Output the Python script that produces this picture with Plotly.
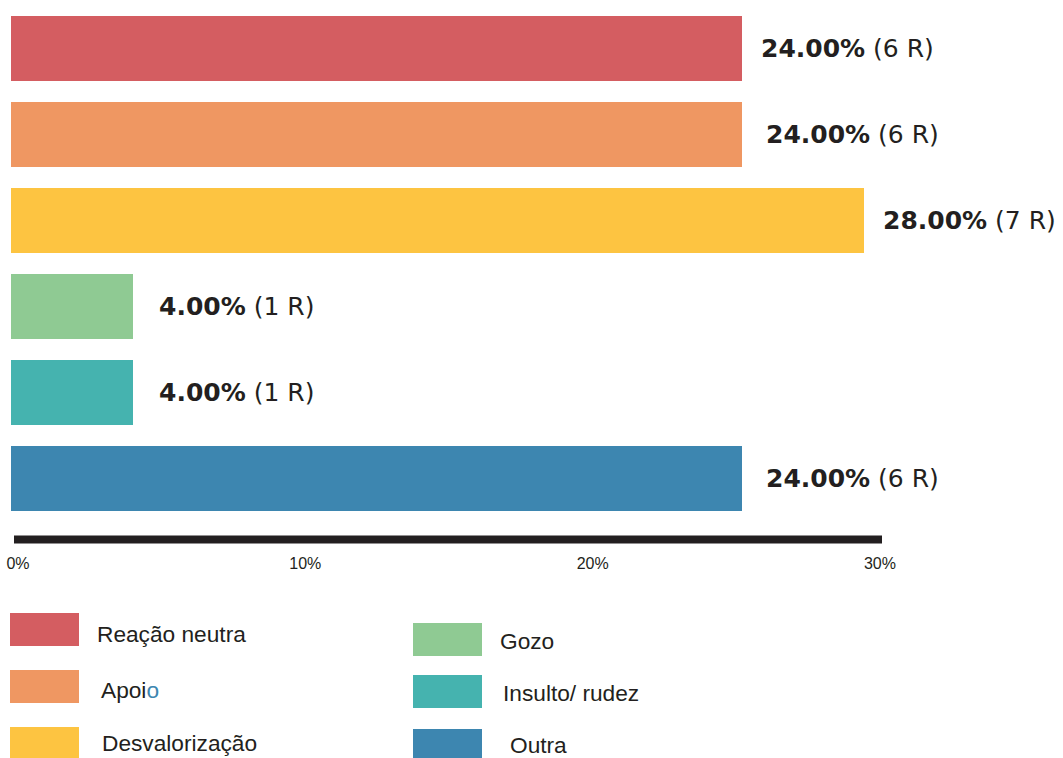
import plotly.graph_objects as go

# ---- data ----
categories = ["Reação neutra", "Apoio", "Desvalorização", "Gozo", "Insulto/ rudez", "Outra"]
percentages = [24.0, 24.0, 28.0, 4.0, 4.0, 24.0]
counts = [6, 6, 7, 1, 1, 6]
colors = ["#D45D61", "#EF9762", "#FDC441", "#8FCA93", "#45B3AF", "#3D86B0"]
tick_values = [0, 10, 20, 30]
tick_labels = ["0%", "10%", "20%", "30%"]

# ---- style / layout helpers ----
W, H = 1063, 758
label_gap = [17, 22, 17, 24, 24, 22]
# legend layout (pixel positions): swatch x, swatch top, text x, text center y
legend_pos = [
    (10, 613, 95, 634),
    (10, 670, 99, 690),
    (10, 727, 100, 743),
    (413, 623, 498, 641),
    (413, 675, 501, 693),
    (413, 729, 508, 745),
]
SW_W, SW_H = 69, 33


def px(x):
    return x / W


def py(y):
    return 1 - y / H


fig = go.Figure()
fig.add_trace(go.Bar(
    y=categories, x=percentages, orientation="h",
    marker=dict(color=colors, line=dict(width=0)),
    width=0.756, hoverinfo="skip", showlegend=False,
))
# invisible trace on secondary axis so it renders ticks
fig.add_trace(go.Scatter(x=[0, 30], y=[categories[0], categories[0]], xaxis="x2",
                         mode="markers", marker=dict(opacity=0), showlegend=False,
                         hoverinfo="skip"))

annotations = []
for cat, p, n, g in zip(categories, percentages, counts, label_gap):
    annotations.append(dict(
        x=p, y=cat, xref="x", yref="y", xanchor="left", yanchor="middle",
        xshift=g, showarrow=False,
        text=(f"<b>{p:.2f}%</b> ({n} R)"),
        font=dict(size=25, color="#231F20", family="DejaVu Sans"),
    ))

shapes = []
for (sx, sy, tx, ty), cat, col in zip(legend_pos, categories, colors):
    shapes.append(dict(type="rect", xref="paper", yref="paper",
                       x0=px(sx), x1=px(sx + SW_W), y0=py(sy), y1=py(sy + SW_H),
                       fillcolor=col, line=dict(width=0), layer="above"))
    txt = cat
    if cat == "Apoio":
        txt = "Apoi<span style='fill:#3D86B0'>o</span>"
    annotations.append(dict(x=px(tx), y=py(ty), xref="paper", yref="paper",
                            xanchor="left", yanchor="middle", showarrow=False,
                            text=txt, font=dict(size=22.7, color="#231F20",
                                                family="Liberation Sans")))

# axis line
shapes.append(dict(type="line", xref="x2", yref="paper", x0=-0.14, x1=30.07,
                   y0=py(539.5), y1=py(539.5), line=dict(color="#231F20", width=8)))

fig.update_layout(
    width=W, height=H, autosize=False,
    margin=dict(l=0, r=0, t=0, b=0, pad=0, autoexpand=False),
    paper_bgcolor="white", plot_bgcolor="rgba(0,0,0,0)",
    xaxis=dict(range=[-0.3612, 34.548], domain=[0, 1], visible=False, fixedrange=True,
               automargin=False),
    yaxis=dict(type="category", categoryorder="array", categoryarray=categories,
               range=[8.250, -0.564], domain=[0, 1], visible=False, automargin=False),
    xaxis2=dict(anchor="free", position=py(552), side="bottom", automargin=False,
                domain=[px(14), px(882)], range=[-0.139, 30.07],
                tickvals=tick_values, ticktext=tick_labels, showline=False,
                showgrid=False, zeroline=False, ticks="",
                tickfont=dict(size=16, color="#231F20", family="Liberation Sans")),
    shapes=shapes, annotations=annotations,
    bargap=0,
)

fig.write_html("out.html")
